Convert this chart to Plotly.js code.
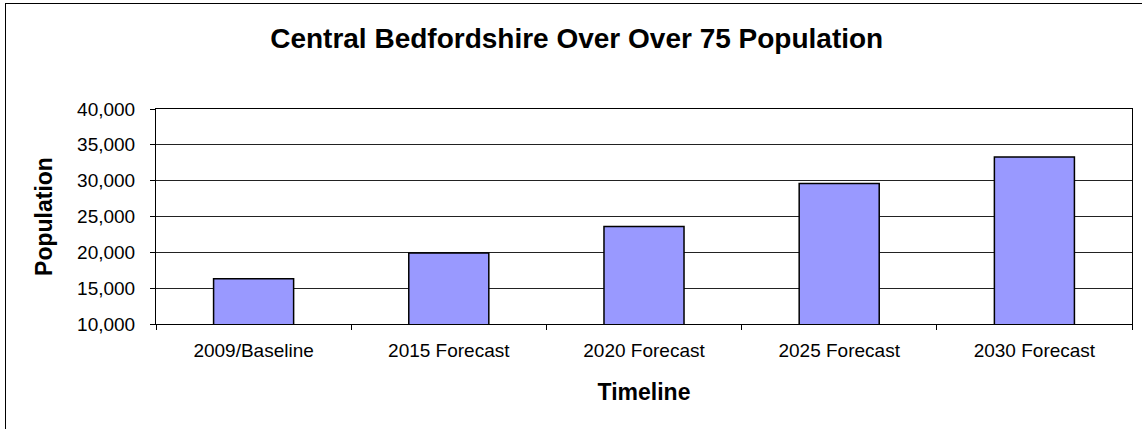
<!DOCTYPE html>
<html>
<head>
<meta charset="utf-8">
<script src="https://cdn.plot.ly/plotly-3.0.1.min.js"></script>
<style>
  html, body { margin: 0; padding: 0; background: #fff; overflow: hidden; }
  #wrap { position: relative; width: 1142px; height: 429px; }
  #chart { width: 1142px; height: 429px; }
  #frame { position: absolute; left: 5px; top: 3px; width: 1200px; height: 500px;
           border: 1px solid #000; pointer-events: none; box-sizing: border-box; }
</style>
</head>
<body>
<div id="wrap">
  <div id="chart"></div>
  <div id="frame"></div>
</div>
<script>
const categories = ["2009/Baseline", "2015 Forecast", "2020 Forecast", "2025 Forecast", "2030 Forecast"];
const population = [16300, 19900, 23600, 29600, 33300];
const chartTitle = "Central Bedfordshire Over Over 75 Population";
const xTitle = "Timeline";
const yTitle = "Population";

const FONT = "Arial, 'Liberation Sans', sans-serif";

const trace = {
  type: "bar",
  x: categories,
  y: population,
  marker: { color: "#9999FF", line: { color: "#000000", width: 1.5 } },
  hoverinfo: "x+y"
};

const layout = {
  width: 1142,
  height: 429,
  margin: { l: 156, r: 10, t: 109, b: 105, pad: 0 },
  paper_bgcolor: "#ffffff",
  plot_bgcolor: "#ffffff",
  showlegend: false,
  bargap: 0.59,
  font: { family: FONT, color: "#000000" },
  title: {
    text: "<b>" + chartTitle + "</b>",
    font: { family: FONT, size: 28, color: "#000000" },
    x: 0.505, xref: "container", xanchor: "center",
    y: 1 - 38 / 429, yref: "container", yanchor: "middle"
  },
  xaxis: {
    type: "category",
    title: { text: "<b>" + xTitle + "</b>", font: { family: FONT, size: 23 }, standoff: 24 },
    tickfont: { family: FONT, size: 19, color: "#000" },
    showgrid: false,
    showline: true, linecolor: "#000", linewidth: 1, mirror: true,
    ticks: "outside", ticklen: 5, tickcolor: "#000", tickwidth: 1,
    tickson: "boundaries",
    ticklabelstandoff: 9,
    zeroline: false,
    fixedrange: true
  },
  yaxis: {
    range: [10000, 40000],
    dtick: 5000,
    tick0: 10000,
    tickformat: ",d",
    title: { text: "<b>" + yTitle + "</b>", font: { family: FONT, size: 23 }, standoff: 18 },
    tickfont: { family: FONT, size: 19, color: "#000" },
    showgrid: true, gridcolor: "#222222", gridwidth: 1,
    showline: true, linecolor: "#000", linewidth: 1, mirror: true,
    ticks: "outside", ticklen: 5, tickcolor: "#000", tickwidth: 1,
    ticklabelstandoff: 11,
    zeroline: false,
    fixedrange: true
  }
};

Plotly.newPlot("chart", [trace], layout, { displayModeBar: false, staticPlot: true });
</script>
</body>
</html>
